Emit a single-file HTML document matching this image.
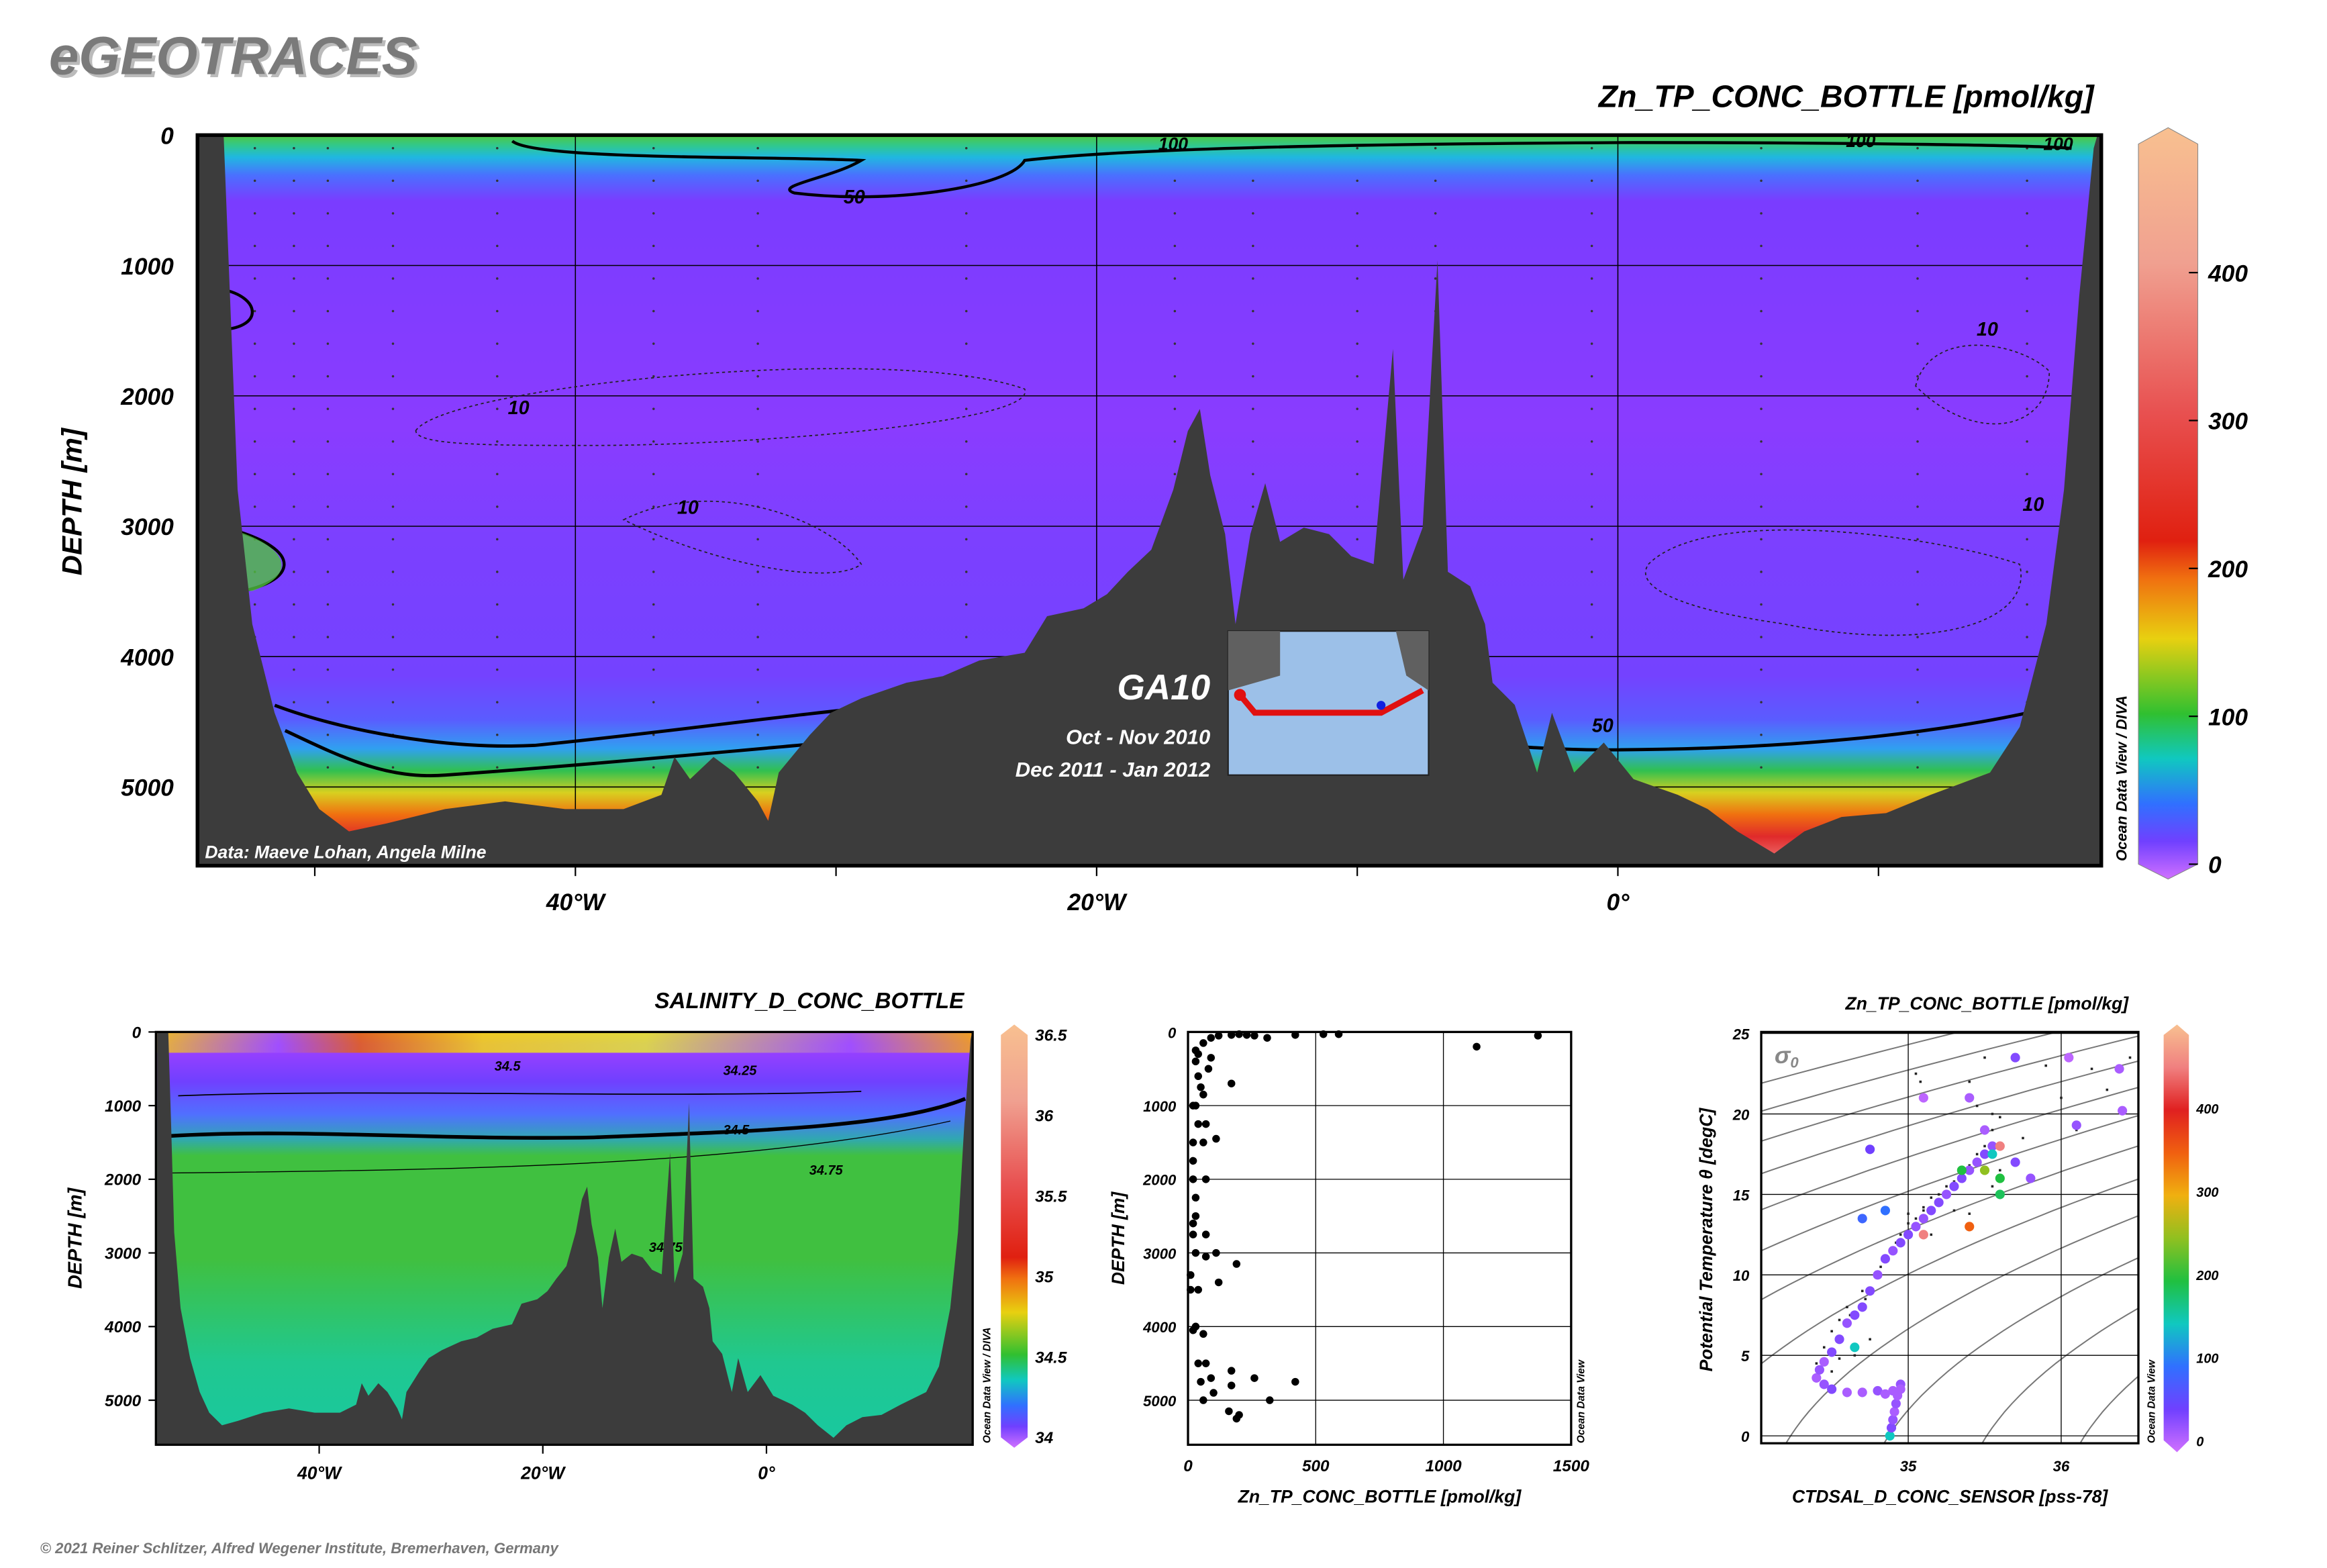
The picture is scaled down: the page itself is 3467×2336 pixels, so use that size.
<!DOCTYPE html>
<html><head><meta charset="utf-8"><style>
html,body{margin:0;padding:0;background:#fff}
svg{display:block}
text{font-family:"Liberation Sans",sans-serif;font-weight:bold;font-style:italic}
</style></head><body>
<svg id="s" width="3467" height="2336" viewBox="0 0 1567 1056" preserveAspectRatio="none" xmlns="http://www.w3.org/2000/svg">
<defs>
<linearGradient id="mainG" x1="0" y1="0" x2="0" y2="1">
<stop offset="0" stop-color="#50c840"/><stop offset="0.015" stop-color="#30c890"/><stop offset="0.03" stop-color="#20b8e0"/><stop offset="0.055" stop-color="#4a70ff"/><stop offset="0.09" stop-color="#7a3cff"/><stop offset="0.4" stop-color="#8a3cff"/><stop offset="0.55" stop-color="#7c40ff"/><stop offset="0.74" stop-color="#7442ff"/><stop offset="0.8" stop-color="#5a5cff"/><stop offset="0.84" stop-color="#30a0f0"/><stop offset="0.87" stop-color="#30c050"/><stop offset="0.9" stop-color="#d8d020"/><stop offset="0.93" stop-color="#f07010"/><stop offset="0.96" stop-color="#e02a2a"/><stop offset="1" stop-color="#f08080"/>
</linearGradient>
<linearGradient id="salG" x1="0" y1="0" x2="0" y2="1">
<stop offset="0" stop-color="#f0a020"/><stop offset="0.03" stop-color="#a040ff"/><stop offset="0.12" stop-color="#7040ff"/><stop offset="0.2" stop-color="#5070ff"/><stop offset="0.26" stop-color="#30a8b0"/><stop offset="0.3" stop-color="#40c040"/><stop offset="0.55" stop-color="#40c040"/><stop offset="0.8" stop-color="#20c890"/><stop offset="1" stop-color="#18c8a0"/>
</linearGradient>
<linearGradient id="cbG" x1="0" y1="0" x2="0" y2="1">
<stop offset="0" stop-color="#f8c090"/><stop offset="0.18" stop-color="#f0a090"/><stop offset="0.38" stop-color="#e85050"/><stop offset="0.55" stop-color="#e02010"/><stop offset="0.6" stop-color="#f07010"/><stop offset="0.68" stop-color="#e8d010"/><stop offset="0.78" stop-color="#30c030"/><stop offset="0.84" stop-color="#10c8c0"/><stop offset="0.9" stop-color="#3070ff"/><stop offset="0.95" stop-color="#7040ff"/><stop offset="1" stop-color="#d070ff"/>
</linearGradient>
<linearGradient id="tsCbG" x1="0" y1="0" x2="0" y2="1">
<stop offset="0" stop-color="#f8c090"/><stop offset="0.1" stop-color="#f08080"/><stop offset="0.2" stop-color="#e02020"/><stop offset="0.3" stop-color="#f06010"/><stop offset="0.4" stop-color="#f0b010"/><stop offset="0.5" stop-color="#90c020"/><stop offset="0.6" stop-color="#20c040"/><stop offset="0.7" stop-color="#10c8c0"/><stop offset="0.8" stop-color="#3070ff"/><stop offset="0.9" stop-color="#7040ff"/><stop offset="1" stop-color="#d070ff"/>
</linearGradient>
<linearGradient id="topBand" x1="0" y1="0" x2="1" y2="0">
<stop offset="0" stop-color="#f0c020"/><stop offset="0.15" stop-color="#a050ff"/><stop offset="0.25" stop-color="#e06020"/><stop offset="0.4" stop-color="#f0d020"/><stop offset="0.6" stop-color="#e0e040"/><stop offset="0.85" stop-color="#a050ff"/><stop offset="1" stop-color="#f0a020"/>
</linearGradient>
</defs>

<text x="33" y="50" font-size="36" fill="#bbb" transform="translate(2,2)">eGEOTRACES</text>
<text x="33" y="50" font-size="36" fill="#7a7a7a">eGEOTRACES</text>
<text x="1410" y="72" font-size="21" text-anchor="end">Zn_TP_CONC_BOTTLE [pmol/kg]</text>

<g id="main">
<rect x="133" y="91" width="1282" height="492" fill="url(#mainG)"/>
<g id="mainGrid"></g>
<path d="M345,95 C360,108 520,105 580,108 C560,120 520,125 535,130 C600,138 680,126 690,108 C760,100 900,97 1100,96 C1250,96 1380,98 1395,100" fill="none" stroke="#000" stroke-width="2"/>
<text x="568" y="137" font-size="13">50</text>
<path d="M185,475 C230,492 300,505 360,502 C500,488 600,470 700,470 C850,470 950,505 1080,505 C1200,505 1300,495 1375,478" fill="none" stroke="#000" stroke-width="2.2"/>
<path d="M192,492 C230,510 260,525 300,522 C400,515 500,505 560,500" fill="none" stroke="#000" stroke-width="2.2"/>
<text x="1072" y="493" font-size="13">50</text>
<path d="M280,290 C300,260 600,230 690,262 C700,285 500,300 400,300 C330,300 280,300 280,290Z" fill="none" stroke="#222" stroke-width="0.8" stroke-dasharray="2,2"/>
<path d="M420,350 C480,320 560,350 580,380 C560,395 480,380 420,350Z" fill="none" stroke="#222" stroke-width="0.8" stroke-dasharray="2,2"/>
<path d="M1110,380 C1150,340 1300,360 1360,380 C1370,420 1300,440 1200,420 C1130,410 1100,395 1110,380Z" fill="none" stroke="#222" stroke-width="0.8" stroke-dasharray="2,2"/>
<path d="M1290,260 C1300,220 1360,230 1380,250 C1380,290 1330,300 1290,260Z" fill="none" stroke="#222" stroke-width="0.8" stroke-dasharray="2,2"/>
<text x="342" y="279" font-size="13">10</text><text x="456" y="346" font-size="13">10</text><text x="1331" y="226" font-size="13">10</text><text x="1362" y="344" font-size="13">10</text>
<text x="780" y="101" font-size="12">100</text><text x="1243" y="99" font-size="12">100</text><text x="1376" y="101" font-size="12">100</text>
<path d="M150,195 C175,200 178,220 150,222 M150,355 C210,370 200,395 150,400" fill="none" stroke="#000" stroke-width="2"/>
<path d="M150,355 C190,365 205,385 170,398 L160,398 L158,360Z" fill="#50c040" opacity="0.8"/>
<path id="mainBathy" fill="#3c3c3c"/>
<rect x="133" y="91" width="1282" height="492" fill="none" stroke="#000" stroke-width="2.5"/>
<text x="138" y="578" font-size="12" fill="#fff">Data: Maeve Lohan, Angela Milne</text>
<g>
<rect x="827" y="425" width="135" height="97" fill="#9cc0e8" stroke="#222"/>
<path d="M827,425 h35 v30 l-35,10Z M940,425 h22 v40 l-15,-10Z" fill="#606060"/>
<path d="M835,468 L845,480 L930,480 L958,465" fill="none" stroke="#e01010" stroke-width="4"/>
<circle cx="835" cy="468" r="4" fill="#e01010"/><circle cx="930" cy="475" r="3" fill="#1020e0"/>
</g>
<text x="815" y="471" font-size="24" fill="#fff" text-anchor="end">GA10</text>
<text x="815" y="501" font-size="14" fill="#fff" text-anchor="end">Oct - Nov 2010</text>
<text x="815" y="523" font-size="14" fill="#fff" text-anchor="end">Dec 2011 - Jan 2012</text>
<text transform="translate(55,338) rotate(-90)" font-size="19" text-anchor="middle">DEPTH [m]</text>
<text transform="translate(1432,580) rotate(-90)" font-size="10">Ocean Data View / DIVA</text>
<path d="M1440,97 L1460,86 L1480,97 V582 L1460,592 L1440,582Z" fill="url(#cbG)" stroke="#888" stroke-width="0.5"/>
<g id="mainCb"></g>
</g>

<g id="sal">
<text x="545" y="679" font-size="15" text-anchor="middle">SALINITY_D_CONC_BOTTLE</text>
<rect x="105" y="695" width="550" height="278" fill="url(#salG)"/>
<rect x="105" y="695" width="550" height="14" fill="url(#topBand)" opacity="0.9"/>
<path d="M115,765 C200,760 300,768 400,766 C500,762 600,760 650,740" fill="none" stroke="#000" stroke-width="2.5"/>
<path d="M120,738 C250,733 450,740 580,735" fill="none" stroke="#000" stroke-width="0.8"/>
<path d="M112,790 C300,788 500,786 640,755" fill="none" stroke="#000" stroke-width="0.6"/>
<text x="487" y="764" font-size="9">34.5</text><text x="545" y="791" font-size="9">34.75</text><text x="487" y="724" font-size="9">34.25</text><text x="333" y="721" font-size="9">34.5</text><text x="437" y="843" font-size="9">34.75</text>
<g id="salGrid"></g>
<path id="salBathy" fill="#3c3c3c"/>
<rect x="105" y="695" width="550" height="278" fill="none" stroke="#000" stroke-width="1.5"/>
<text transform="translate(55,834) rotate(-90)" font-size="13" text-anchor="middle">DEPTH [m]</text>
<text transform="translate(667,972) rotate(-90)" font-size="7">Ocean Data View / DIVA</text>
<path d="M674,697 L683,690 L692,697 V968 L683,975 L674,968Z" fill="url(#cbG)"/>
<g id="salCb"></g>
</g>

<g id="mid">
<rect x="800" y="695" width="258" height="278" fill="#fff"/>
<g id="midG"></g>
<text transform="translate(757,834) rotate(-90)" font-size="12" text-anchor="middle">DEPTH [m]</text>
<text x="929" y="1012" font-size="12" text-anchor="middle">Zn_TP_CONC_BOTTLE [pmol/kg]</text>
<text transform="translate(1067,972) rotate(-90)" font-size="7">Ocean Data View</text>
</g>

<g id="ts">
<text x="1338" y="680" font-size="12" text-anchor="middle">Zn_TP_CONC_BOTTLE [pmol/kg]</text>
<rect x="1186" y="695" width="254" height="277" fill="#fff"/>
<g id="tsG"></g>
<text transform="translate(1153,835) rotate(-90)" font-size="12" text-anchor="middle">Potential Temperature θ [degC]</text>
<text x="1313" y="1012" font-size="12" text-anchor="middle">CTDSAL_D_CONC_SENSOR [pss-78]</text>
<text x="1195" y="716" font-size="16" fill="#888">σ<tspan font-size="10" dy="3">0</tspan></text>
<text transform="translate(1451,972) rotate(-90)" font-size="7">Ocean Data View</text>
<path d="M1457,697 L1466,690 L1474,697 V970 L1466,978 L1457,970Z" fill="url(#tsCbG)"/>
<g id="tsCb"></g>
</g>

<text x="27" y="1046" font-size="10" fill="#777">© 2021 Reiner Schlitzer, Alfred Wegener Institute, Bremerhaven, Germany</text>
</svg>
<script>
// Bathymetry (lon, depth m)
const bathyLon=[-54.5,-53.5,-53.25,-52.96,-52.4,-51.54,-50.68,-49.83,-48.69,-47.26,-45.0,-42.7,-40.4,-38.15,-36.7,-36.2,-35.6,-34.7,-33.9,-33.0,-32.6,-32.2,-31.0,-30.2,-29.03,-27.3,-25.9,-24.5,-22.76,-21.9,-20.5,-19.6,-18.8,-17.9,-17.06,-16.5,-16.04,-15.64,-15.07,-14.67,-14.1,-13.53,-12.96,-12.05,-11.08,-10.23,-9.37,-8.63,-8.23,-7.49,-6.92,-6.52,-5.67,-5.1,-4.81,-3.96,-3.1,-2.53,-1.68,-0.54,0.6,2.3,3.45,4.59,6.0,7.15,8.58,10.29,12.0,14.28,15.42,16.44,17.12,17.7,18.26,18.4,18.5];
const bathyDepth=[0,0,1240,2720,3750,4430,4890,5170,5340,5280,5170,5110,5170,5170,5060,4770,4940,4770,4890,5110,5260,4890,4600,4430,4320,4200,4150,4030,3970,3690,3630,3520,3350,3180,2720,2270,2100,2610,3060,3750,3060,2670,3120,3010,3060,3230,3290,1640,3410,3010,960,3350,3460,3750,4200,4370,4890,4430,4890,4660,4940,5060,5170,5340,5510,5340,5230,5200,5060,4890,4540,3750,2720,1240,100,0,0];
// Zn profile data
const znVal=[1370,1130,590,530,420,310,260,230,200,170,120,90,60,30,40,90,30,80,40,170,50,60,20,30,70,40,110,60,20,20,70,20,30,30,20,20,70,110,70,30,190,10,120,40,10,30,20,60,40,70,170,260,90,50,420,170,100,320,60,160,200,190];
const znDepth=[50,200,30,30,40,80,50,40,30,40,50,80,150,250,300,350,400,500,600,700,750,850,1000,1000,1250,1250,1450,1500,1500,1750,2000,2000,2250,2500,2600,2750,2750,3000,3050,3000,3150,3300,3400,3500,3500,4000,4050,4100,4500,4500,4600,4700,4700,4750,4750,4800,4900,5000,5000,5150,5200,5250];
// TS colored samples
const tsSal=[34.88,34.89,34.9,34.91,34.92,34.93,34.9,34.8,34.7,34.6,34.5,34.95,34.95,34.85,34.45,34.4,34.42,34.45,34.5,34.55,34.6,34.65,34.7,34.75,34.8,34.85,34.9,34.95,35.0,35.05,35.1,35.15,35.2,35.25,35.3,35.35,35.4,35.45,35.5,35.55,35.5,35.8,35.7,36.1,36.38,36.4,35.1,35.4,34.75,36.05,35.7,35.55,35.35,35.6,35.6,35.5,35.4,35.1,34.65,35.6,34.7,34.85];
const tsTheta=[0,0.5,1,1.5,2,2.5,2.8,2.8,2.7,2.7,2.9,3.2,2.9,2.6,3.2,3.6,4.1,4.6,5.2,6,7,7.5,8,9,10,11,11.5,12,12.5,13,13.5,14,14.5,15,15.5,16,16.5,17,17.5,18,19,16,17,19.3,22.8,20.2,21,21,17.8,23.5,23.5,17.5,16.5,16,15,16.5,13,12.5,5.5,18,13.5,14];
const tsZn=[150,40,30,20,30,20,20,30,20,20,40,30,20,20,30,20,30,20,40,40,30,40,40,40,30,40,30,40,40,30,30,40,40,30,40,40,30,30,40,30,20,30,40,30,20,20,10,20,50,10,40,150,200,200,190,250,350,450,150,450,90,100];
// TS small black dots
const dotSal=[34.4,34.45,34.5,34.5,34.55,34.6,34.62,34.7,34.72,34.8,34.82,34.85,34.9,34.92,34.95,35.0,35.05,35.1,35.1,35.15,35.2,35.25,35.3,35.35,35.4,35.45,35.5,35.55,35.6,35.45,35.4,35.5,35.55,35.05,35.08,35.0,35.9,36.0,36.2,36.3,36.45,35.6,35.55,35.15,34.75,34.65,34.55,35.3,35.4,35.2,35.75,36.1];
const dotTheta=[4.5,5.5,6.5,4.0,7.2,8,7.5,9,8.5,10,10.5,10.8,11.5,12,12.5,13.2,13.5,14,14.2,14.8,15,15.5,15.8,16.2,16.8,17.5,18,19,19.8,20.5,22,23.5,20,22.5,22,13.8,23,21,22.8,21.5,23.5,16.5,15.5,12.5,6,5,4.8,14,13.8,14.5,18.5,19];

const NS='http://www.w3.org/2000/svg';
function mk(parent,tag,attrs){const e=document.createElementNS(NS,tag);for(const k in attrs)e.setAttribute(k,attrs[k]);parent.appendChild(e);return e;}
function txt(parent,x,y,s,size,anchor){const e=mk(parent,'text',{x:x,y:y,'font-size':size,'text-anchor':anchor||'start'});e.textContent=s;return e;}

const mx=l=>133+(l+54.5)*17.55, my=d=>91+d*0.0878;
const sx=l=>105+(l+54.6)*7.53, sy=d=>695+d*0.0496;
function bathyPath(fx,fy,bottom){let p='M'+fx(bathyLon[0])+','+bottom;for(let i=0;i<bathyLon.length;i++)p+=' L'+fx(bathyLon[i]).toFixed(1)+','+fy(bathyDepth[i]).toFixed(1);return p+' L'+fx(bathyLon[bathyLon.length-1])+','+bottom+'Z';}
document.getElementById('mainBathy').setAttribute('d',bathyPath(mx,my,583));
document.getElementById('salBathy').setAttribute('d',bathyPath(sx,sy,973));

const mg=document.getElementById('mainGrid');
const depthTicks=[0,1000,2000,3000,4000,5000];
const lonTicks=[-40,-20,0];const lonLabels=['40°W','20°W','0°'];
depthTicks.forEach(d=>{mk(mg,'line',{x1:133,x2:1415,y1:my(d),y2:my(d),stroke:'#000','stroke-width':0.7});
 const t=txt(document.getElementById('main'),117,my(d)+6,String(d),16,'end');
 
 });
lonTicks.forEach((l,i)=>{mk(mg,'line',{x1:mx(l),x2:mx(l),y1:91,y2:583,stroke:'#000','stroke-width':0.7});
 const t=txt(document.getElementById('main'),mx(l),613,lonLabels[i],16,'middle');
 
 });
for(let l=-50;l<=15;l+=10){mk(document.getElementById('main'),'line',{x1:mx(l),x2:mx(l),y1:583,y2:590,stroke:'#000'});}
const stations=[-52.3,-50.8,-49.5,-47,-43,-37,-33,-25,-17,-14,-10,-7,-1,5.5,11.5,15.7];
stations.forEach(l=>{for(let d=100;d<5000;d+=250){if(d<4000||l<-30||l>0)mk(mg,'circle',{cx:mx(l),cy:my(d),r:0.8,fill:'#333'});}});

const cbVals=[0,100,200,300,400];
const mcb=document.getElementById('mainCb');
cbVals.forEach(v=>{const y=582-v*0.996;mk(mcb,'line',{x1:1474,x2:1480,y1:y,y2:y,stroke:'#000'});const t=txt(mcb,1487,y+6,String(v),16);
 
 });

const salG=document.getElementById('sal');
depthTicks.forEach(d=>{txt(salG,95,sy(d)+4,String(d),11,'end');mk(salG,'line',{x1:100,x2:105,y1:sy(d),y2:sy(d),stroke:'#000'});});
lonTicks.forEach((l,i)=>{txt(salG,sx(l),996,lonLabels[i],12,'middle');mk(salG,'line',{x1:sx(l),x2:sx(l),y1:973,y2:979,stroke:'#000'});});
const salVals=[34,34.5,35,35.5,36,36.5];
const scb=document.getElementById('salCb');
salVals.forEach(v=>{const y=968-(v-34)*108.4;txt(scb,697,y+4,String(v),11);});

const zx=v=>800+v*0.172, zy=d=>695+d*0.0496;
const midG=document.getElementById('midG');
const znTicks=[0,500,1000,1500];
depthTicks.forEach(d=>{mk(midG,'line',{x1:800,x2:1058,y1:zy(d),y2:zy(d),stroke:'#000','stroke-width':0.6});txt(midG,792,zy(d)+4,String(d),10,'end');});
znTicks.forEach(v=>{mk(midG,'line',{x1:zx(v),x2:zx(v),y1:695,y2:973,stroke:'#000','stroke-width':0.6});txt(midG,zx(v),991,String(v),11,'middle');});
mk(midG,'rect',{x:800,y:695,width:258,height:278,fill:'none',stroke:'#000','stroke-width':1.5});
znVal.forEach((v,i)=>{const c=mk(midG,'circle',{cx:zx(v),cy:zy(znDepth[i]),r:2.6,fill:'#000'});
 
 });

const tx=s=>1285+(s-35)*103, ty=t=>967-t*10.84;
const tsG=document.getElementById('tsG');
const clip=mk(tsG,'clipPath',{id:'tsClip'});mk(clip,'rect',{x:1186,y:695,width:254,height:277});
const iso=mk(tsG,'g',{'clip-path':'url(#tsClip)'});
const sigLevels=[23.5,24,24.5,25,25.5,26,26.5,27,27.5,28,28.5,29,29.5,30];
sigLevels.forEach(sg0=>{let p='';for(let t=-1;t<=26;t+=0.5){const s=35+(sg0-28.1+0.0531*t+0.0056*t*t)/0.78;p+=(p?' L':'M')+tx(s).toFixed(1)+','+ty(t).toFixed(1);}
 mk(iso,'path',{d:p,fill:'none',stroke:'#777','stroke-width':0.9});});
const tempTicks=[0,5,10,15,20,25];
tempTicks.forEach(t=>{mk(tsG,'line',{x1:1186,x2:1440,y1:ty(t),y2:ty(t),stroke:'#000','stroke-width':0.6});txt(tsG,1178,ty(t)+4,String(t),10,'end');});
[35,36].forEach(s=>{mk(tsG,'line',{x1:tx(s),x2:tx(s),y1:695,y2:972,stroke:'#000','stroke-width':0.6});txt(tsG,tx(s),991,String(s),10,'middle');});
mk(tsG,'rect',{x:1186,y:695,width:254,height:277,fill:'none',stroke:'#000','stroke-width':1.5});
dotSal.forEach((s,i)=>{const r=mk(tsG,'rect',{x:tx(s)-0.8,y:ty(dotTheta[i])-0.8,width:1.6,height:1.6,fill:'#222'});
 
 });
function znColor(v){const stops=[[0,[208,112,255]],[50,[112,64,255]],[100,[48,112,255]],[150,[16,200,192]],[200,[32,192,64]],[250,[144,192,32]],[300,[240,176,16]],[350,[240,96,16]],[400,[224,32,32]],[450,[240,128,128]],[500,[248,192,144]]];
 for(let i=1;i<stops.length;i++){if(v<=stops[i][0]){const a=stops[i-1],b=stops[i],f=(v-a[0])/(b[0]-a[0]);return 'rgb('+a[1].map((c,j)=>Math.round(c+(b[1][j]-c)*f)).join(',')+')';}}return 'rgb(248,192,144)';}
tsSal.forEach((s,i)=>{const c=mk(tsG,'circle',{cx:tx(s),cy:ty(tsTheta[i]),r:3.2,fill:znColor(tsZn[i])});
 
 });
const tcb=document.getElementById('tsCb');
cbVals.forEach(v=>{const y=970-v*0.56;txt(tcb,1479,y+4,String(v),9);});
</script>
</body></html>
